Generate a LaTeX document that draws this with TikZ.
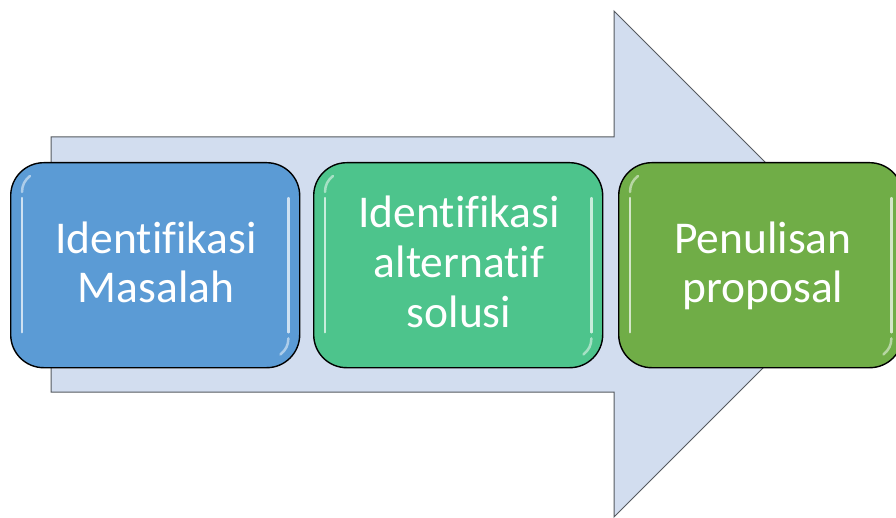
\documentclass[tikz,border=0pt]{standalone}
\usepackage{fontspec}
\setmainfont[Ligatures={NoCommon}]{Carlito}
\definecolor{arrowfill}{HTML}{D2DDEF}
\definecolor{arrowline}{HTML}{555A60}
\definecolor{boxA}{HTML}{5B9BD5}
\definecolor{boxB}{HTML}{4DC48C}
\definecolor{boxC}{HTML}{70AD47}
\tikzset{
  stagebox/.style={draw=black, line width=1.4pt, rounded corners=33pt, minimum width=289pt, minimum height=205pt, inner sep=0pt, anchor=north west},
  gloss/.style={draw=white, line width=2.2pt, opacity=0.7, line cap=round},
  labeltext/.style={text=white, font=\fontsize{45.5}{49}\selectfont, anchor=base, inner sep=0pt},
}
\begin{document}
\begin{tikzpicture}[x=1pt,y=-1pt]
\useasboundingbox (0,0) rectangle (896,518);
\begin{scope}
\clip (0,0) rectangle (896,518);
% big arrow
\draw[fill=arrowfill, draw=arrowline, line width=1pt]
  (51,137) -- (614,137) -- (614,11) -- (867,264) -- (614,517) -- (614,392) -- (51,392) -- cycle;
% boxes
\node[stagebox, fill=boxA] (b1) at (10,162) {};
\node[stagebox, fill=boxB] (b2) at (313,162) {};
\node[stagebox, fill=boxC, minimum width=284pt] (b3) at (618,162) {};
% gloss highlights
\foreach \b in {b1,b2,b3}{
  \draw[gloss] ([xshift=12pt,yshift=-36pt]\b.north west) -- ([xshift=12pt,yshift=36pt]\b.south west);
  \draw[gloss] ([xshift=-12pt,yshift=-36pt]\b.north east) -- ([xshift=-12pt,yshift=36pt]\b.south east);
  \draw[gloss, line width=2.5pt, opacity=0.5] ([xshift=12pt,yshift=-30pt]\b.north west) to[bend left=25] ([xshift=20pt,yshift=-14pt]\b.north west);
  \draw[gloss, line width=2.5pt, opacity=0.5] ([xshift=-12pt,yshift=30pt]\b.south east) to[bend left=25] ([xshift=-20pt,yshift=14pt]\b.south east);
}
% texts
\node[labeltext] (t1a) at (156,254) {Identifikasi};
\node[labeltext] (t1b) at (156,303) {Masalah};
\node[labeltext] (t2a) at (459,228) {Identifikasi};
\node[labeltext] (t2b) at (459,278) {alternatif};
\node[labeltext] (t2c) at (459,327) {solusi};
\node[labeltext] (t3a) at (763,254) {Penulisan};
\node[labeltext] (t3b) at (763,303) {proposal};
\end{scope}
\end{tikzpicture}
\end{document}
